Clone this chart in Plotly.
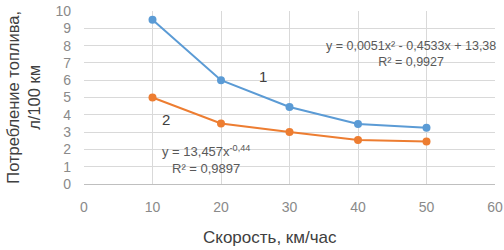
import plotly.graph_objects as go

speed = [10, 20, 30, 40, 50]
fuel_1 = [9.5, 6.0, 4.45, 3.47, 3.25]
fuel_2 = [5.0, 3.5, 3.0, 2.55, 2.45]

x_ticks = [0, 10, 20, 30, 40, 50, 60]
y_ticks = list(range(0, 11))

eq_1 = "y = 0,0051x² - 0,4533x + 13,38<br>R² = 0,9927"
eq_2 = "y = 13,457x<sup>-0,44</sup><br>R² = 0,9897"
x_title = "Скорость, км/час"
y_title = "Потребление топлива,<br>л/100 км"

narrow = "Liberation Sans Narrow, Arial Narrow, sans-serif"
regular = "Liberation Sans, Arial, sans-serif"
tick_font = dict(family=narrow, size=14, color="#8a8a8a")
text_font = dict(family=narrow, size=13, color="#595959")
num_font = dict(family=regular, size=15, color="#404040")

fig = go.Figure()
fig.add_trace(go.Scatter(x=speed, y=fuel_1, mode="lines+markers",
                         line=dict(color="#5B9BD5", width=2),
                         marker=dict(color="#5B9BD5", size=8), showlegend=False))
fig.add_trace(go.Scatter(x=speed, y=fuel_2, mode="lines+markers",
                         line=dict(color="#ED7D31", width=2),
                         marker=dict(color="#ED7D31", size=8), showlegend=False))

fig.add_annotation(x=47.8, y=7.5, text=eq_1, showarrow=False,
                   font=dict(family=narrow, size=12.5, color="#595959"), align="center")
fig.add_annotation(x=17.8, y=1.4, text=eq_2, showarrow=False, font=text_font, align="center")
fig.add_annotation(x=26.1, y=6.2, text="1", showarrow=False, font=num_font)
fig.add_annotation(x=11.9, y=3.7, text="2", showarrow=False, font=num_font)

# axis titles
fig.add_annotation(xref="paper", yref="paper", x=0.4526, y=-0.312, yanchor="middle",
                   text=x_title, showarrow=False,
                   font=dict(family=regular, size=17, color="#404040"))
fig.add_annotation(xref="paper", yref="paper", x=-0.148, y=0.5, xanchor="center",
                   textangle=-90, text=y_title, showarrow=False, align="center",
                   font=dict(family=regular, size=16.5, color="#404040"))

fig.update_layout(
    width=504, height=250,
    margin=dict(l=84, r=9, t=11, b=66, autoexpand=False),
    paper_bgcolor="white", plot_bgcolor="white",
    xaxis=dict(range=[0, 60], tickvals=x_ticks, showgrid=True, gridcolor="#d9d9d9",
               zeroline=False, showline=True, linecolor="#bfbfbf",
               tickfont=tick_font, ticks="", ticklabelstandoff=10, automargin=False),
    yaxis=dict(range=[0, 10], tickvals=y_ticks, showgrid=True, gridcolor="#d9d9d9",
               zeroline=False, showline=False,
               tickfont=tick_font, ticks="", ticklabelstandoff=12, automargin=False),
)

fig.write_html("out.html", config={"displayModeBar": False},
               post_script="document.body.style.margin='0';")
